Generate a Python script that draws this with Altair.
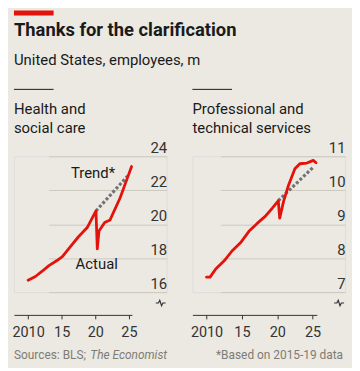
import altair as alt
import pandas as pd

# ---------------- data ----------------
title_text = "Thanks for the clarification"
subtitle_text = "United States, employees, m"
panel_titles = [["Health and", "social care"], ["Professional and", "technical services"]]
source_text = "Sources: BLS; "
source_italic = "The Economist"
footnote_text = "*Based on 2015-19 data"
trend_label = "Trend*"
actual_label = "Actual"

health_years = [2010.0, 2011.1, 2012.1, 2013.1, 2014.3, 2015.1, 2016.3, 2017.5, 2018.8,
                 2020.1, 2020.3, 2020.55, 2020.9, 2021.4, 2022.2, 2023.7, 2024.7, 2025.4]
health_vals = [16.70, 16.92, 17.23, 17.56, 17.86, 18.09, 18.68, 19.26, 19.80,
               20.78, 18.54, 19.60, 19.80, 20.10, 20.25, 21.56, 22.64, 23.40]
health_trend_years = [2020.1, 2024.8]
health_trend_vals = [20.78, 22.83]

prof_years = [2010.0, 2010.5, 2011.3, 2012.5, 2013.6, 2014.8, 2016.0, 2017.2, 2018.3,
              2019.3, 2020.15, 2020.35, 2020.9, 2021.6, 2022.5, 2023.2, 2024.2, 2025.1, 2025.5]
prof_vals = [7.44, 7.44, 7.68, 7.92, 8.21, 8.45, 8.79, 9.03, 9.23,
             9.47, 9.69, 9.18, 9.67, 10.15, 10.63, 10.78, 10.80, 10.88, 10.81]
prof_trend_years = [2020.15, 2025.2]
prof_trend_vals = [9.69, 10.70]

x_ticks = [2010, 2015, 2020, 2025]
health_y_ticks = [16, 18, 20, 22, 24]
prof_y_ticks = [7, 8, 9, 10, 11]

# ---------------- style ----------------
FONT = "Roboto"
BG = "#ebe9e2"
RED = "#e3120b"
DARK = "#1a1a1a"
AXIS = "#333333"
GREY_TXT = "#7d7c76"
GRID = "#cbc8bf"
W, H = 154, 137
BREAK_PATH = "M-1,0L-0.45,0L-0.18,-0.55L0.18,0.55L0.45,0L1,0"

one = alt.Data(values=[{}])


def panel(years, vals, t_years, t_vals, y_ticks, x_domain, x_range, titles, left):
    actual_df = pd.DataFrame({"year": years, "value": vals})
    trend_df = pd.DataFrame({"year": t_years, "value": t_vals})

    xenc = alt.X(
        "year:Q",
        scale=alt.Scale(domain=x_domain, range=x_range, nice=False, zero=False),
        axis=alt.Axis(
            values=x_ticks,
            labelExpr="datum.value == 2010 ? '2010' : format(datum.value % 100, '02d')",
            offset=23, grid=False, title=None,
            domain=True, domainColor=AXIS, domainWidth=1,
            ticks=True, tickSize=4, tickColor=AXIS, tickWidth=1,
            labelFont=FONT, labelFontSize=14.5, labelColor=AXIS, labelPadding=6.5,
            labelFlush=False,
        ),
    )
    yenc = alt.Y(
        "value:Q",
        scale=alt.Scale(domain=[y_ticks[0], y_ticks[-1]], nice=False, zero=False),
        axis=alt.Axis(
            orient="right", values=y_ticks, title=None,
            grid=True, gridColor=GRID, gridWidth=1,
            domain=False, ticks=False, tickSize=0,
            labelAlign="right", labelBaseline="alphabetic", labelOffset=-3.5,
            labelPadding=0, labelFont=FONT, labelFontSize=15, labelColor=AXIS,
            labelFlush=False,
        ),
    )

    trend = alt.Chart(trend_df).mark_line(
        color="#707376", strokeWidth=3.2, strokeDash=[3, 2]
    ).encode(x=xenc, y=yenc)
    actual = alt.Chart(actual_df).mark_line(
        color=RED, strokeWidth=2.8, strokeJoin="round", strokeCap="round"
    ).encode(x=xenc, y=yenc)

    layers = [trend, actual]

    # top red bar (visible only on left panel)
    layers.append(alt.Chart(one).mark_rect(color=RED, opacity=1 if left else 0).encode(
        x=alt.value(0), x2=alt.value(40), y=alt.value(-147), y2=alt.value(-142)))
    # short black line above panel title
    layers.append(alt.Chart(one).mark_rule(color=DARK, strokeWidth=1).encode(
        x=alt.value(0), x2=alt.value(40), y=alt.value(-67.5)))
    # panel title
    layers.append(alt.Chart(one).mark_text(
        text=titles, align="left", baseline="alphabetic", font=FONT, fontSize=15,
        lineHeight=19.5, color=DARK).encode(x=alt.value(0), y=alt.value(-42.7)))
    # axis break symbol
    layers.append(alt.Chart(one).mark_point(
        shape=BREAK_PATH, size=100, filled=False, stroke=AXIS, strokeWidth=1.2, opacity=1
    ).encode(x=alt.value(148), y=alt.value(148)))

    if left:
        layers.append(alt.Chart(one).mark_text(
            text=title_text, align="left", baseline="alphabetic", font=FONT,
            fontSize=18.5, fontWeight="bold", color=DARK
        ).encode(x=alt.value(0), y=alt.value(-121.7)))
        layers.append(alt.Chart(one).mark_text(
            text=subtitle_text, align="left", baseline="alphabetic", font=FONT,
            fontSize=15, color=DARK
        ).encode(x=alt.value(0), y=alt.value(-92.3)))
        layers.append(alt.Chart(one).mark_text(
            text=trend_label, align="right", baseline="alphabetic", font=FONT,
            fontSize=15, color=DARK
        ).encode(x=alt.value(102), y=alt.value(22.3)))
        layers.append(alt.Chart(one).mark_text(
            text=actual_label, align="center", baseline="alphabetic", font=FONT,
            fontSize=15, color=DARK
        ).encode(x=alt.value(83.5), y=alt.value(113.3)))
        layers.append(alt.Chart(one).mark_text(
            text=source_text, align="left", baseline="alphabetic", font=FONT,
            fontSize=12, color=GREY_TXT
        ).encode(x=alt.value(0), y=alt.value(204)))
        layers.append(alt.Chart(one).mark_text(
            text=source_italic, align="left", baseline="alphabetic", font=FONT,
            fontSize=12, fontStyle="italic", color=GREY_TXT
        ).encode(x=alt.value(77), y=alt.value(204)))
    else:
        layers.append(alt.Chart(one).mark_text(
            text=footnote_text, align="right", baseline="alphabetic", font=FONT,
            fontSize=12, color=GREY_TXT
        ).encode(x=alt.value(152), y=alt.value(204)))

    return alt.layer(*layers).properties(width=W, height=H)


left = panel(health_years, health_vals, health_trend_years, health_trend_vals,
             health_y_ticks, [2007.9, 2025.45], [0, 119], panel_titles[0], True)
right = panel(prof_years, prof_vals, prof_trend_years, prof_trend_vals,
              prof_y_ticks, [2008.0, 2025.6], [0, 125.5], panel_titles[1], False)

chart = (
    alt.hconcat(left, right, spacing=26, bounds="flush")
    .resolve_scale(x="independent", y="independent")
    .configure_view(stroke=None)
    .configure(background=BG, padding={"left": 3, "top": 0, "right": 5, "bottom": 5})
)

chart.save("out.html", embed_options={"renderer": "svg", "actions": False})
